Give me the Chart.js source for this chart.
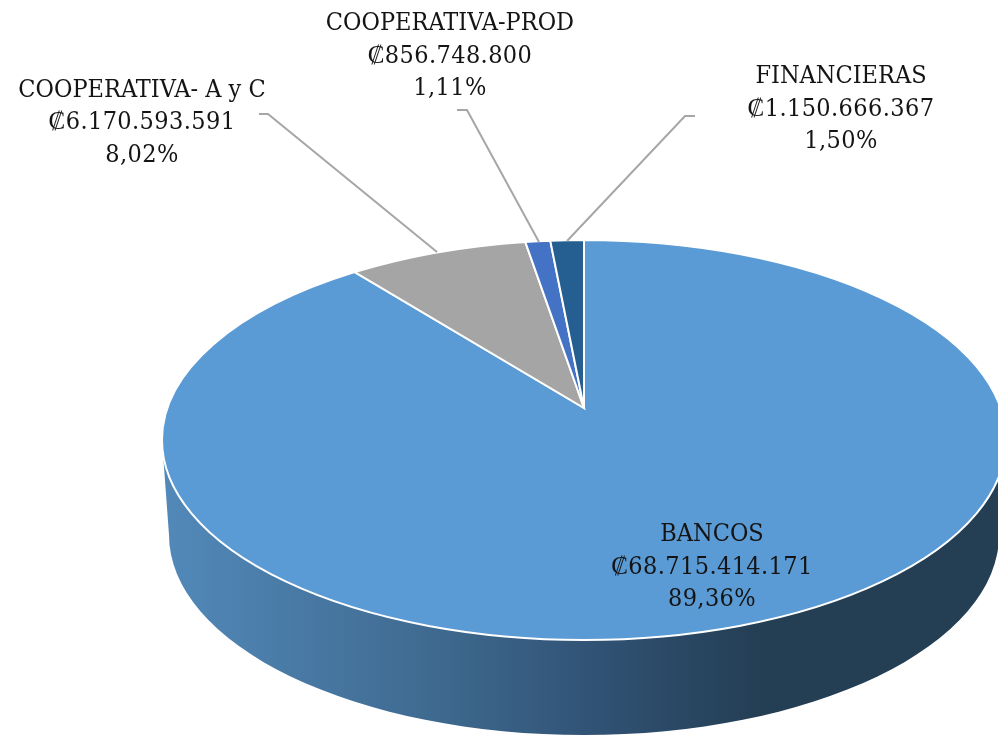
<!DOCTYPE html>
<html>
<head>
<meta charset="utf-8">
<title>Cartera por sector</title>
<script src="https://cdn.jsdelivr.net/npm/chart.js@4"></script>
<style>
    html, body { margin: 0; padding: 0; background: #fff; }
    canvas { display: block; }
</style>
</head>
<body>
<canvas id="pieChart" width="998" height="735"></canvas>
<script>
const categories = ['BANCOS', 'COOPERATIVA- A y C', 'COOPERATIVA-PROD', 'FINANCIERAS'];
const amounts = [68715414171, 6170593591, 856748800, 1150666367];
const sliceColors = ['#5B9BD5', '#A5A5A5', '#4472C4', '#255E91'];

// where each label sits (centre x, first line y) and its leader line, if any
const labelPos = [
    { x: 712, y: 534.5, leader: null },
    { x: 142, y: 90, leader: [[259, 114], [268, 114], [437, 252]] },
    { x: 450, y: 23.5, leader: [[457, 110], [467, 110], [539, 242]] },
    { x: 841, y: 76.5, leader: [[695, 116], [685, 116], [567, 241]] }
];

const FONT = '25px "DejaVu Serif Condensed", "DejaVu Serif", serif';
const LINE_H = 32.5;

// the pie is tilted: top ellipse, with the apex above the ellipse centre
const top3d = { cx: 584, cy: 440, rx: 422, ry: 200 };
const base3d = { cx: 584, cy: 535, rx: 415, ry: 200 };
const apex = { x: 584, y: 408 };
const persp = 0.16;
const flatX = 416.6;
const flatY = 194.88;

function toEllipseAngle(angle) {
    const w = 1 - persp * Math.sin(angle);
    const px = flatX * Math.cos(angle) / w;
    const py = flatY * Math.sin(angle) / w + apex.y;
    return Math.atan2((py - top3d.cy) / top3d.ry, px / top3d.rx);
}

function money(v) {
    return '₡' + String(v).replace(/\B(?=(\d{3})+$)/g, '.');
}

function percent(v, total) {
    return (v / total * 100).toFixed(2).replace('.', ',') + '%';
}

const pie3dPlugin = {
    id: 'pie3d',
    beforeDatasetDraw(chart) {
        const ctx = chart.ctx;
        const arcs = chart.getDatasetMeta(0).data;

        // side wall
        const grad = ctx.createLinearGradient(165, 0, 760, 0);
        grad.addColorStop(0, '#5289B9');
        grad.addColorStop(0.445, '#3F6A90');
        grad.addColorStop(0.73, '#305274');
        grad.addColorStop(1, '#243E54');
        ctx.save();
        ctx.beginPath();
        ctx.moveTo(top3d.cx - top3d.rx, top3d.cy);
        ctx.lineTo(base3d.cx - base3d.rx, base3d.cy);
        ctx.ellipse(base3d.cx, base3d.cy, base3d.rx, base3d.ry, 0, Math.PI, 0, true);
        ctx.lineTo(top3d.cx + top3d.rx, top3d.cy);
        ctx.closePath();
        ctx.fillStyle = grad;
        ctx.fill();

        // top face, angles come from the library's arc elements
        arcs.forEach((arc, i) => {
            const start = toEllipseAngle(arc.startAngle);
            const end = toEllipseAngle(arc.endAngle);
            ctx.beginPath();
            ctx.moveTo(apex.x, apex.y);
            ctx.ellipse(top3d.cx, top3d.cy, top3d.rx, top3d.ry, 0, start, end, false);
            ctx.closePath();
            ctx.fillStyle = sliceColors[i];
            ctx.fill();
            ctx.strokeStyle = '#fff';
            ctx.lineWidth = 2;
            ctx.stroke();
        });
        ctx.restore();
        return false;
    },
    afterDraw(chart) {
        const ctx = chart.ctx;
        const total = amounts.reduce((a, b) => a + b, 0);
        ctx.save();
        ctx.font = FONT;
        ctx.textAlign = 'center';
        ctx.textBaseline = 'middle';
        categories.forEach((name, i) => {
            const pos = labelPos[i];
            if (pos.leader) {
                ctx.beginPath();
                pos.leader.forEach((p, k) => k ? ctx.lineTo(p[0], p[1]) : ctx.moveTo(p[0], p[1]));
                ctx.strokeStyle = '#A6A6A6';
                ctx.lineWidth = 2;
                ctx.stroke();
            }
            ctx.fillStyle = '#141414';
            ctx.letterSpacing = '0px';
            ctx.fillText(name, pos.x, pos.y);
            ctx.letterSpacing = '0.4px';
            ctx.fillText(money(amounts[i]), pos.x, pos.y + LINE_H);
            ctx.fillText(percent(amounts[i], total), pos.x, pos.y + LINE_H * 2);
        });
        ctx.restore();
    }
};

new Chart(document.getElementById('pieChart'), {
    type: 'pie',
    data: {
        labels: categories,
        datasets: [{ data: amounts, backgroundColor: sliceColors, borderColor: '#fff' }]
    },
    plugins: [pie3dPlugin],
    options: {
        responsive: false,
        animation: false,
        events: [],
        plugins: {
            legend: { display: false },
            tooltip: { enabled: false }
        }
    }
});
</script>
</body>
</html>
